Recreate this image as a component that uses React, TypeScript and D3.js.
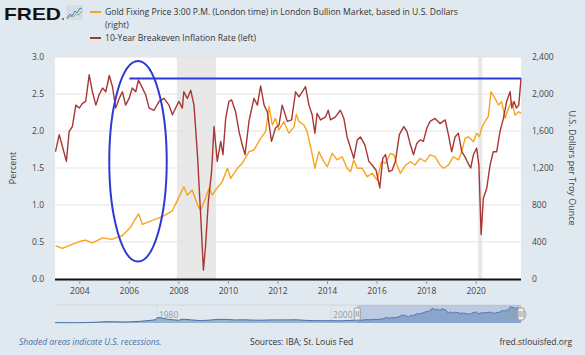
import React from "react";
import * as d3 from "d3";

// Breakeven 10Y (percent), [decimal year, value]
const breakeven: [number, number][] = [
  [2003.02, 1.72], [2003.17, 1.95], [2003.3, 1.79], [2003.46, 1.59], [2003.57, 1.99], [2003.7, 2.06],
  [2003.84, 2.35], [2003.98, 2.31], [2004.1, 2.37], [2004.24, 2.4], [2004.38, 2.76], [2004.51, 2.53],
  [2004.65, 2.35], [2004.78, 2.49], [2004.92, 2.58], [2005.05, 2.53], [2005.19, 2.75], [2005.32, 2.6],
  [2005.45, 2.31], [2005.59, 2.44], [2005.72, 2.53], [2005.85, 2.35], [2005.99, 2.44], [2006.12, 2.58],
  [2006.26, 2.53], [2006.37, 2.69], [2006.53, 2.58], [2006.66, 2.49], [2006.8, 2.31], [2007.0, 2.28],
  [2007.2, 2.4], [2007.4, 2.44], [2007.6, 2.35], [2007.74, 2.22], [2007.87, 2.31], [2008.0, 2.4],
  [2008.14, 2.31], [2008.2, 2.53], [2008.34, 2.44], [2008.48, 2.55], [2008.61, 2.35], [2008.75, 1.68],
  [2008.88, 0.86], [2008.99, 0.12], [2009.08, 0.46], [2009.19, 1.05], [2009.32, 1.45], [2009.42, 2.06],
  [2009.55, 1.59], [2009.69, 1.86], [2009.78, 1.68], [2009.89, 2.17], [2010.02, 2.4], [2010.13, 2.42],
  [2010.29, 2.26], [2010.43, 1.99], [2010.56, 1.81], [2010.67, 1.68], [2010.83, 2.13], [2011.03, 2.44],
  [2011.17, 2.35], [2011.3, 2.61], [2011.44, 2.35], [2011.57, 2.26], [2011.74, 1.86], [2011.9, 2.04],
  [2012.04, 2.08], [2012.17, 2.35], [2012.38, 2.13], [2012.55, 2.15], [2012.71, 2.53], [2012.85, 2.46],
  [2012.98, 2.53], [2013.11, 2.6], [2013.25, 2.35], [2013.38, 2.22], [2013.49, 1.97], [2013.58, 2.24],
  [2013.72, 2.15], [2013.92, 2.19], [2014.03, 2.28], [2014.12, 2.15], [2014.32, 2.19], [2014.52, 2.28],
  [2014.66, 2.17], [2014.79, 1.92], [2014.93, 1.77], [2015.06, 1.63], [2015.2, 1.88], [2015.33, 1.92],
  [2015.51, 1.81], [2015.67, 1.59], [2015.8, 1.54], [2015.96, 1.47], [2016.11, 1.23], [2016.23, 1.63],
  [2016.34, 1.68], [2016.48, 1.45], [2016.61, 1.47], [2016.74, 1.59], [2016.9, 1.95], [2017.08, 2.06],
  [2017.21, 1.99], [2017.35, 1.81], [2017.47, 1.68], [2017.6, 1.83], [2017.74, 1.88], [2017.87, 1.86],
  [2018.01, 2.04], [2018.14, 2.13], [2018.34, 2.17], [2018.54, 2.1], [2018.75, 2.15], [2018.88, 1.95],
  [2019.01, 1.72], [2019.15, 1.92], [2019.28, 1.97], [2019.42, 1.72], [2019.55, 1.65], [2019.68, 1.56],
  [2019.78, 1.5], [2019.89, 1.68], [2020.02, 1.77], [2020.11, 1.54], [2020.2, 0.6], [2020.29, 1.09],
  [2020.43, 1.23], [2020.56, 1.54], [2020.69, 1.72], [2020.83, 1.72], [2020.96, 1.99], [2021.1, 2.17],
  [2021.23, 2.4], [2021.37, 2.53], [2021.44, 2.31], [2021.53, 2.4], [2021.62, 2.31], [2021.72, 2.35],
  [2021.81, 2.71],
];

// Gold fixing price (USD/oz), [decimal year, value]
const gold: [number, number][] = [
  [2003.02, 360], [2003.3, 331], [2003.57, 360], [2003.98, 405], [2004.24, 420], [2004.5, 390],
  [2004.92, 445], [2005.3, 429], [2005.72, 470], [2006.05, 560], [2006.37, 705], [2006.53, 590],
  [2006.8, 620], [2007.2, 660], [2007.45, 690], [2007.74, 740], [2007.94, 850], [2008.2, 998],
  [2008.34, 908], [2008.54, 962], [2008.75, 800], [2008.88, 746], [2009.08, 872], [2009.22, 980],
  [2009.35, 908], [2009.48, 962], [2009.75, 1052], [2009.96, 1197], [2010.09, 1089], [2010.36, 1197],
  [2010.56, 1251], [2010.83, 1377], [2011.03, 1395], [2011.3, 1521], [2011.5, 1593], [2011.64, 1863],
  [2011.77, 1665], [2011.9, 1737], [2012.04, 1611], [2012.24, 1701], [2012.44, 1575], [2012.65, 1647],
  [2012.74, 1780], [2012.85, 1701], [2013.05, 1665], [2013.18, 1593], [2013.36, 1377], [2013.49, 1197],
  [2013.65, 1377], [2013.85, 1268], [2013.99, 1214], [2014.19, 1359], [2014.39, 1287], [2014.59, 1322],
  [2014.79, 1197], [2014.93, 1160], [2015.06, 1287], [2015.2, 1197], [2015.4, 1197], [2015.6, 1106],
  [2015.8, 1143], [2016.0, 1070], [2016.18, 1268], [2016.34, 1251], [2016.54, 1359], [2016.68, 1341],
  [2016.81, 1232], [2016.94, 1143], [2017.15, 1232], [2017.35, 1268], [2017.53, 1232], [2017.74, 1305],
  [2017.94, 1268], [2018.14, 1341], [2018.34, 1322], [2018.54, 1232], [2018.68, 1197], [2018.88, 1232],
  [2019.08, 1322], [2019.28, 1287], [2019.42, 1377], [2019.55, 1521], [2019.68, 1539], [2019.89, 1485],
  [2020.02, 1575], [2020.13, 1539], [2020.22, 1629], [2020.35, 1701], [2020.49, 1755], [2020.6, 2025],
  [2020.76, 1953], [2020.9, 1881], [2021.03, 1917], [2021.17, 1737], [2021.3, 1845], [2021.44, 1917],
  [2021.57, 1773], [2021.71, 1809], [2021.81, 1791],
];

// Gold history before 2003 shown in the navigator
const goldHistory: [number, number][] = [
  [1968.3, 38], [1969, 42], [1970, 35], [1971, 40], [1972, 60], [1973, 100], [1974, 160], [1975, 160],
  [1976, 125], [1977, 150], [1978, 200], [1979, 300], [1979.8, 390], [1980.05, 680], [1980.5, 630],
  [1981, 500], [1981.5, 420], [1982.5, 340], [1983, 480], [1984, 380], [1985, 300], [1986, 350],
  [1987, 450], [1988, 440], [1989, 380], [1990, 400], [1991, 360], [1992, 340], [1993, 380],
  [1994, 385], [1995, 385], [1996, 400], [1997, 330], [1998, 295], [1999, 280], [2000, 285],
  [2001, 270], [2002, 310],
];

const recessions: [number, number][] = [[2007.92, 2009.5], [2020.08, 2020.25]];
const xTicks = [2004, 2006, 2008, 2010, 2012, 2014, 2016, 2018, 2020];
const leftTicks = [0, 0.5, 1, 1.5, 2, 2.5, 3];
const rightTicks = [0, 400, 800, 1200, 1600, 2000, 2400];
const navTicks = [1980, 2000, 2020];
const annotationLevel = 2.71; // blue horizontal line (percent)
const annotationStart = 2006.0;
const ellipseCenter: [number, number] = [2006.35, 1.59];
const ellipseSpan: [number, number] = [1.16, 1.355]; // half-width in years, half-height in percent

const W = 585, H = 355;
const L = 55, R = 521, T = 57, B = 279;
const FONT = "'Open Sans', 'DejaVu Sans', sans-serif";
const GOLD = "#f5a51e";
const RED = "#a83636";

export default function App() {
  const x = d3.scaleLinear().domain([2003.0, 2021.81]).range([L, R]);
  const yL = d3.scaleLinear().domain([0, 3]).range([B, T]);
  const yR = d3.scaleLinear().domain([0, 2400]).range([B, T]);
  const lineBE = d3.line<[number, number]>().x(d => x(d[0])).y(d => yL(d[1]));
  const lineG = d3.line<[number, number]>().x(d => x(d[0])).y(d => yR(d[1]));

  const nx = d3.scaleLinear().domain([1968.3, 2021.81]).range([55, 521]);
  const ny = d3.scaleLinear().domain([0, 2100]).range([323, 306]);
  const navData = goldHistory.concat(gold);
  const navArea = d3.area<[number, number]>().x(d => nx(d[0])).y0(323).y1(d => ny(d[1]));
  const navLine = d3.line<[number, number]>().x(d => nx(d[0])).y(d => ny(d[1]));

  const tickStyle = { fontFamily: FONT, fontSize: 8.5, fill: "#444" } as const;
  const selL = nx(2003.0), selR = nx(2021.81);

  return (
    <svg width={W} height={H} style={{ position: "absolute", left: 0, top: 0, display: "block" }}>
      <rect width={W} height={H} fill="#e1e9f0" />
      {/* logo */}
      <text x={4} y={20} fontFamily="'Liberation Sans', Arial, sans-serif" fontWeight={900} fontSize={17}
        textLength={57} lengthAdjust="spacingAndGlyphs" fill="#111">FRED</text>
      <circle cx={63} cy={19} r={1} fill="#555" />
      <rect x={66} y={5} width={17} height={15} fill="#d5dde6" rx={1} />
      <polyline points="67,18 70,14 72,16 75,11 77,13 80,8 82,9" fill="none" stroke="#4f7fb8" strokeWidth={1} />
      <polyline points="67,19 70,16 73,17 76,14 79,15 82,11" fill="none" stroke="#8db56a" strokeWidth={1} />
      {/* legend */}
      <line x1={90} x2={101} y1={12} y2={12} stroke={GOLD} strokeWidth={2} />
      <text x={105} y={15.3} fontFamily={FONT} fontSize={8.6} fill="#333">
        Gold Fixing Price 3:00 P.M. (London time) in London Bullion Market, based in U.S. Dollars
      </text>
      <text x={105} y={28.3} fontFamily={FONT} fontSize={8.6} fill="#333">(right)</text>
      <line x1={90} x2={101} y1={38} y2={38} stroke={RED} strokeWidth={2} />
      <text x={105} y={41.3} fontFamily={FONT} fontSize={8.6} fill="#333">10-Year Breakeven Inflation Rate (left)</text>

      {/* plot area */}
      <rect x={L} y={T} width={R - L} height={B - T} fill="#ffffff" />
      {recessions.map((r, i) => (
        <rect key={i} x={x(r[0])} y={T} width={x(r[1]) - x(r[0])} height={B - T} fill="#e8e8e8" />
      ))}
      {leftTicks.filter(v => v > 0).map(v => (
        <line key={v} x1={L} x2={R} y1={yL(v)} y2={yL(v)} stroke="#e3e3e3" strokeWidth={1} />
      ))}
      <path d={lineG(gold) || ""} fill="none" stroke={GOLD} strokeWidth={1.4} strokeLinejoin="round" />
      <path d={lineBE(breakeven) || ""} fill="none" stroke={RED} strokeWidth={1.4} strokeLinejoin="round" />
      <line x1={L} x2={R} y1={B + 0.5} y2={B + 0.5} stroke="#111" strokeWidth={2} />

      {/* annotations */}
      <line x1={x(annotationStart)} x2={R} y1={yL(annotationLevel)} y2={yL(annotationLevel)} stroke="#2d3ad6" strokeWidth={2} />
      <ellipse cx={x(ellipseCenter[0])} cy={yL(ellipseCenter[1])}
        rx={x(ellipseCenter[0] + ellipseSpan[0]) - x(ellipseCenter[0])}
        ry={yL(ellipseCenter[1]) - yL(ellipseCenter[1] + ellipseSpan[1])}
        fill="none" stroke="#2d3ad6" strokeWidth={2} />

      {/* axes */}
      {xTicks.map(t => (
        <g key={t}>
          <line x1={x(t)} x2={x(t)} y1={B + 1} y2={B + 5} stroke="#999" />
          <text x={x(t)} y={294} textAnchor="middle" {...tickStyle}>{t}</text>
        </g>
      ))}
      {leftTicks.map(v => (
        <text key={v} x={44} y={yL(v) + 3} textAnchor="end" {...tickStyle}>{d3.format(".1f")(v)}</text>
      ))}
      {rightTicks.map(v => (
        <text key={v} x={532} y={yR(v) + 3} textAnchor="start" {...tickStyle}>{d3.format(",")(v)}</text>
      ))}
      <text transform={`translate(16,${(T + B) / 2}) rotate(-90)`} textAnchor="middle" {...tickStyle} fontSize={9}>Percent</text>
      <text transform={`translate(569,${(T + B) / 2}) rotate(90)`} textAnchor="middle" {...tickStyle} fontSize={9}>U.S. Dollars per Troy Ounce</text>

      {/* navigator */}
      <line x1={55} x2={521} y1={305} y2={305} stroke="#d0d6dc" />
      {navTicks.map(t => (
        <g key={t}>
          <line x1={nx(t)} x2={nx(t)} y1={305} y2={323} stroke="#d6dce2" />
        </g>
      ))}
      <path d={navArea(navData) || ""} fill="#4572a7" fillOpacity={0.45} />
      <path d={navLine(navData) || ""} fill="none" stroke="#4572a7" strokeWidth={1} />
      <rect x={selL} y={305} width={selR - selL} height={18} fill="rgba(102,133,194,0.3)" />
      {navTicks.map(t => (
        <text key={t} x={nx(t) + 2} y={318} fontFamily={FONT} fontSize={8.5} fill="#999">{t}</text>
      ))}
      {[selL, selR].map((hx, i) => (
        <g key={i}>
          <rect x={hx - 3} y={308} width={6} height={12} rx={1} fill="#f2f2f2" stroke="#999" />
          <line x1={hx - 1} x2={hx - 1} y1={311} y2={317} stroke="#999" />
          <line x1={hx + 1} x2={hx + 1} y1={311} y2={317} stroke="#999" />
        </g>
      ))}

      {/* footer */}
      <text x={19} y={345} fontFamily={FONT} fontSize={8.5} fontStyle="italic" fill="#4572a7">Shaded areas indicate U.S. recessions.</text>
      <text x={250} y={345} fontFamily={FONT} fontSize={8.5} fill="#333">Sources: IBA; St. Louis Fed</text>
      <text x={572} y={345} textAnchor="end" fontFamily={FONT} fontSize={8.5} fill="#333">fred.stlouisfed.org</text>
    </svg>
  );
}
